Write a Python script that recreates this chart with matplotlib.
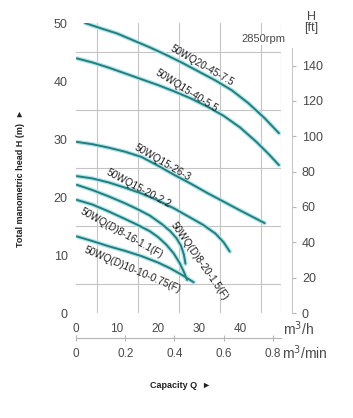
import numpy as np
import matplotlib
matplotlib.use("Agg")
import matplotlib.pyplot as plt

plt.rcParams['font.family'] = ['Liberation Sans', 'DejaVu Sans']

# pump curves, capacity Q in m3/h, head H in m
q_20_45 = [2.2, 6, 10, 14, 18, 22, 26, 30, 34, 38, 42, 46, 49.5]
h_20_45 = [50.0, 49.1, 48.2, 47.0, 45.8, 44.5, 43.1, 41.6, 40.1, 38.4, 36.2, 33.6, 31.0]

q_15_40 = [0.2, 4, 8, 12, 16, 20, 24, 28, 32, 36, 40, 44, 47, 49.5]
h_15_40 = [43.9, 43.2, 42.3, 41.3, 40.3, 39.3, 38.2, 37.0, 35.6, 34.0, 32.0, 29.5, 27.4, 25.5]

q_15_26 = [0.2, 4, 8, 12, 16, 20, 24, 28, 32, 36, 40, 43, 46]
h_15_26 = [29.5, 29.1, 28.5, 27.8, 26.9, 25.4, 23.8, 22.3, 20.7, 19.2, 17.7, 16.6, 15.5]

q_15_20 = [0.2, 4, 8, 12, 16, 20, 24, 28, 31, 34, 36, 37.5]
h_15_20 = [23.6, 23.2, 22.5, 21.6, 20.6, 19.4, 18.0, 16.4, 15.2, 13.7, 12.2, 10.6]

q_8_20 = [0.2, 4, 8, 12, 15, 18, 21, 23, 24.5, 25.6, 26.3, 26.7]
h_8_20 = [22.1, 21.2, 20.1, 18.9, 17.9, 16.8, 15.3, 14.1, 12.9, 11.6, 10.1, 8.5]

q_8_16 = [0.2, 4, 8, 12, 15, 18, 20, 22, 23.8, 25.3, 26.3, 27.1]
h_8_16 = [19.5, 18.7, 17.5, 16.2, 15.2, 14.1, 13.1, 11.8, 10.3, 8.6, 7.1, 5.7]

q_10_10 = [0.2, 4, 8, 12, 16, 20, 23, 26, 28.7]
h_10_10 = [13.2, 12.4, 11.5, 10.7, 9.8, 8.7, 7.7, 6.5, 5.3]

curves = [
    (q_20_45, h_20_45), (q_15_40, h_15_40), (q_15_26, h_15_26),
    (q_15_20, h_15_20), (q_8_20, h_8_20), (q_8_16, h_8_16), (q_10_10, h_10_10),
]

labels = ["50WQ20-45-7.5", "50WQ15-40-5.5", "50WQ15-26-3", "50WQ15-20-2.2",
          "50WQ(D)8-20-1.5(F)", "50WQ(D)8-16-1.1(F)", "50WQ(D)10-10-0.75(F)"]
label_q = [30.8, 27.1, 21.0, 15.2, 30.0, 11.2, 13.8]
label_h = [42.6, 38.4, 26.0, 21.4, 9.0, 13.7, 7.4]
label_rot = [-30, -32, -30, -28, -55, -29, -23]

x_ticks = [0, 10, 20, 30, 40]
y_ticks = [0, 10, 20, 30, 40, 50]
min_ticks = [0, 0.2, 0.4, 0.6, 0.8]
ft_ticks = [0, 20, 40, 60, 80, 100, 120, 140]

W, H = 353, 418
fig = plt.figure(figsize=(W / 100, H / 100), dpi=100)
ax = fig.add_axes([76 / W, 105 / H, 205 / W, 290 / H])

grid_c = '#c4c4c4'
txt_c = '#4a4a4a'

for q, h in curves:
    ax.plot(q, h, color='#b8e4e4', lw=3.2, solid_capstyle='round', zorder=3)
    ax.plot(q, h, color='#1d8083', lw=1.4, solid_capstyle='round', zorder=4)

for s, q, h, r in zip(labels, label_q, label_h, label_rot):
    ax.text(q, h, s, rotation=r, rotation_mode='anchor', ha='center', va='center',
            fontsize=7.2, color='#1e1e1e', zorder=5)

ax.text(45.6, 47.2, "2850rpm", ha='center', va='center', fontsize=8, color=txt_c,
        bbox=dict(facecolor='white', edgecolor='none', pad=0.5), zorder=5)

ax.set_xlim(0, 50)
ax.set_ylim(0, 50)
ax.set_xticks(x_ticks)
ax.set_yticks(y_ticks)
ax.set_xticks(np.arange(0, 51, 5), minor=True)
ax.set_yticks(np.arange(0, 51, 5), minor=True)
ax.grid(which='minor', color=grid_c, lw=0.8)
ax.grid(which='major', visible=False)
ax.tick_params(which='both', length=0)
ax.tick_params(axis='x', labelsize=8.5, labelcolor=txt_c, pad=7)
ax.tick_params(axis='y', labelsize=9, labelcolor=txt_c, pad=6)
for sp in ax.spines.values():
    sp.set_visible(False)

# second capacity scale in m3/min
sec = ax.secondary_xaxis(-0.086, functions=(lambda x: x / 60.0, lambda x: x * 60.0))
sec.set_xticks(min_ticks)
sec.set_xticklabels(['0', '0.2', '0.4', '0.6', '0.8'])
sec.spines['bottom'].set_color('#b5b5b5')
sec.tick_params(direction='inout', length=4, color='#b5b5b5', labelsize=8.5,
                labelcolor=txt_c, pad=5)

# head in feet on the right
ax2 = ax.twinx()
ax2.set_ylim(0, 50 * 3.28084)
ax2.set_yticks(ft_ticks)
for k, sp in ax2.spines.items():
    sp.set_visible(k == 'right')
ax2.spines['right'].set_position(('outward', 8))
ax2.spines['right'].set_bounds(0, 150)
ax2.spines['right'].set_color('#c8c8c8')
ax2.tick_params(axis='y', direction='out', length=3, color='#b5b5b5',
                labelsize=9, labelcolor=txt_c, pad=4)

fig.text(312 / W, 1 - 17 / H, "H", ha='center', va='center', fontsize=9, color=txt_c)
fig.text(311 / W, 1 - 28 / H, "[ft]", ha='center', va='center', fontsize=9, color=txt_c)
fig.text(283 / W, 1 - 329 / H, "m$^3$/h", ha='left', va='center', fontsize=10, color=txt_c)
fig.text(282 / W, 1 - 353 / H, "m$^3$/min", ha='left', va='center', fontsize=10, color=txt_c)
fig.text(181 / W, 1 - 386 / H, "Capacity Q  \u25ba", ha='center', va='center',
         fontsize=6.5, fontweight='bold', color='#222222')
fig.text(21 / W, 1 - 178 / H, "Total manometric head H (m)  \u25ba", rotation=90,
         ha='center', va='center', fontsize=6.5, fontweight='bold', color='#222222')

fig.savefig("out.png", dpi=100)
